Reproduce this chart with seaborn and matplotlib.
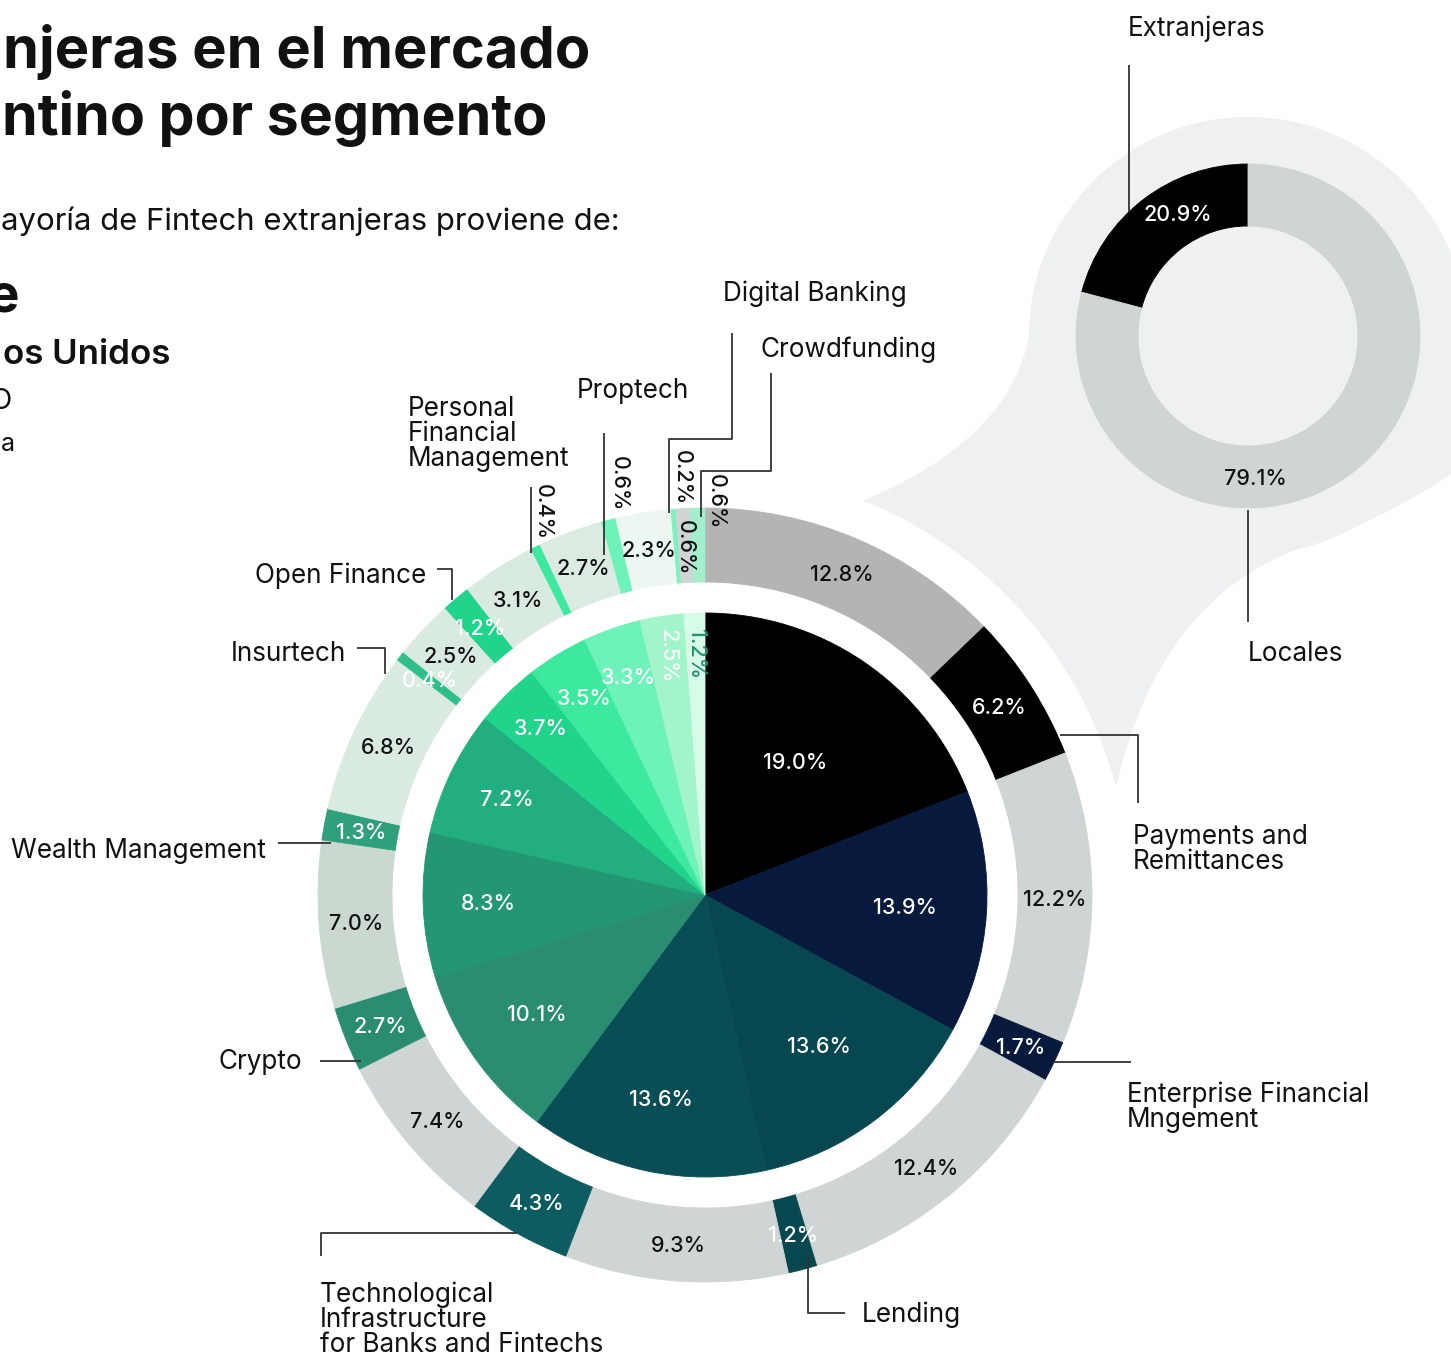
import numpy as np
import matplotlib
matplotlib.use("Agg")
import matplotlib.pyplot as plt
from matplotlib.patches import Circle, PathPatch
from matplotlib.path import Path
import seaborn as sns

# ---------------- data ----------------
segments = ["Payments and Remittances", "Enterprise Financial Mngement", "Lending",
            "Technological Infrastructure for Banks and Fintechs", "Crypto",
            "Wealth Management", "Insurtech", "Open Finance",
            "Personal Financial Management", "Proptech", "Digital Banking", "Crowdfunding"]
segment_share = [19.0, 13.9, 13.6, 13.6, 10.1, 8.3, 7.2, 3.7, 3.5, 3.3, 2.5, 1.2]
local_share = [12.8, 12.2, 12.4, 9.3, 7.4, 7.0, 6.8, 2.5, 3.1, 2.7, 2.3, 0.6]
foreign_share = [6.2, 1.7, 1.2, 4.3, 2.7, 1.3, 0.4, 1.2, 0.4, 0.6, 0.2, 0.6]
origin_labels = ["Extranjeras", "Locales"]
origin_share = [20.9, 79.1]

# ---------------- styles ----------------
segment_colors = ["#000000", "#071a3d", "#07474f", "#0a4e55", "#2a8d71", "#239673",
                  "#23ae80", "#20d48c", "#3de89f", "#6df2b9", "#a2f4ca", "#d6fce8"]
foreign_colors = ["#000000", "#071a3d", "#07474f", "#0d5c62", "#2a8d71", "#2ea17c",
                  "#2ebf8a", "#20d48c", "#3de89f", "#6df2b9", "#7ff0c0", "#a3eecb"]
local_colors = ["#b4b4b4", "#cfd4d5", "#cfd4d5", "#cfd4d5", "#cfd4d5", "#cad8cf",
                "#d9ebe1", "#d9ebe1", "#d9ebe1", "#dbebe2", "#edf7f1", "#cfd4d5"]
origin_colors = ["#000000", "#cfd4d5"]
BUBBLE = "#eff0f1"
LINE = "#333333"
TXT = "#111111"

W, H = 1451, 1359

sns.set_theme(style="white")
plt.rcParams["font.family"] = ["Inter", "DejaVu Sans"]

fig = plt.figure(figsize=(W / 100, H / 100), dpi=100)
fig.patch.set_facecolor("white")
ax = fig.add_axes([0, 0, 1, 1])


def P(x, y):
    return (x, H - y)


def T(x, y, s, **kw):
    kw.setdefault("color", TXT)
    return ax.text(x, H - y, s, **kw)


# ---------------- bubble behind the small donut ----------------
dcx, dcy = 1248, 336
ax.add_patch(Circle(P(dcx, dcy), 219, facecolor=BUBBLE, edgecolor="none", zorder=1))
verts = [P(1100, 336), P(1029, 336), P(1010, 440), P(860, 502), P(820, 640),
         P(1060, 830), P(1117, 783), P(1160, 600), P(1300, 548), P(1385, 520),
         P(1460, 468), P(1460, 336), P(1100, 336)]
codes = [Path.MOVETO, Path.LINETO, Path.CURVE3, Path.CURVE3, Path.LINETO,
         Path.LINETO, Path.LINETO, Path.CURVE3, Path.CURVE3, Path.CURVE3,
         Path.CURVE3, Path.LINETO, Path.CLOSEPOLY]
ax.add_patch(PathPatch(Path(verts, codes), facecolor=BUBBLE, edgecolor="none", zorder=1))

# white halo around the main pie
cx, cy = 705, 895
ax.add_patch(Circle(P(cx, cy), 425, facecolor="white", edgecolor="none", zorder=2))

# ---------------- main chart ----------------
R_OUT, RING_W, R_IN = 387, 74, 282
outer_vals = [v for pair in zip(local_share, foreign_share) for v in pair]
outer_cols = [c for pair in zip(local_colors, foreign_colors) for c in pair]

wo, _ = ax.pie(outer_vals, center=P(cx, cy), radius=R_OUT, startangle=90,
               counterclock=False, colors=outer_cols,
               wedgeprops=dict(width=RING_W, linewidth=0.6, zorder=3))
wi, _ = ax.pie(segment_share, center=P(cx, cy), radius=R_IN, startangle=90,
               counterclock=False, colors=segment_colors,
               wedgeprops=dict(linewidth=0.6, zorder=3))
wd, _ = ax.pie(origin_share, center=P(dcx, dcy), radius=172, startangle=90,
               counterclock=True, colors=origin_colors,
               wedgeprops=dict(width=62, linewidth=0.6, zorder=3))
for w in list(wo) + list(wi) + list(wd):
    w.set_edgecolor(w.get_facecolor())

PCT = dict(fontsize=15.5, fontweight="medium", ha="center", va="center", zorder=6)


def mid(w):
    return np.deg2rad((w.theta1 + w.theta2) / 2)


# outer ring labels
outside = {17: (543, 512), 19: (619, 484), 21: (682, 478), 23: (716, 502)}
ring_mid = R_OUT - RING_W / 2
for i, (w, v) in enumerate(zip(wo, outer_vals)):
    col = "white" if i % 2 == 1 else TXT
    s = f"{v:.1f}%"
    if i in outside:
        x, y = outside[i]
        T(x, y, s, rotation=-90, **{**PCT, "color": TXT})
        continue
    a = mid(w)
    x = cx + ring_mid * np.cos(a)
    y = cy - ring_mid * np.sin(a)
    rot = -90 if i == 22 else 0
    T(x, y + 2, s, rotation=rot, **{**PCT, "color": col})

# inner pie labels
inner_r = [0.57, 0.71, 0.67, 0.74, 0.73, 0.77, 0.78, 0.83, 0.82, 0.82, 0.86, 0.86]
for i, (w, v) in enumerate(zip(wi, segment_share)):
    a = mid(w)
    r = inner_r[i] * R_IN
    x = cx + r * np.cos(a)
    y = cy - r * np.sin(a)
    rot = -90 if i >= 10 else 0
    col = "#2a8d71" if i == 11 else "white"
    T(x, y + 1, f"{v:.1f}%", rotation=rot, **{**PCT, "color": col})

# donut labels
donut_angle = [np.deg2rad((wd[0].theta1 + wd[0].theta2) / 2 - 8), np.deg2rad(273)]
for i, v in enumerate(origin_share):
    a = donut_angle[i]
    x = dcx + 141 * np.cos(a)
    y = dcy - 141 * np.sin(a)
    T(x, y + 2, f"{v:.1f}%", **{**PCT, "color": "white" if i == 0 else TXT})

# ---------------- leader lines ----------------
leaders = [
    [(1129, 65), (1129, 212)],
    [(1248, 510), (1248, 622)],
    [(1060, 735), (1138, 735), (1138, 803)],
    [(1053, 1062), (1131, 1062)],
    [(808, 1255), (808, 1313), (845, 1313)],
    [(517, 1233), (321, 1233), (321, 1256)],
    [(320, 1061), (361, 1061)],
    [(278, 843), (331, 843)],
    [(357, 648), (385, 648), (385, 674)],
    [(437, 569), (452, 569), (452, 600)],
    [(531, 487), (531, 553)],
    [(604, 433), (604, 555)],
    [(732, 333), (732, 439), (669, 439), (669, 513)],
    [(771, 373), (771, 471), (701, 471), (701, 517)],
]
for pts in leaders:
    xs = [p[0] for p in pts]
    ys = [H - p[1] for p in pts]
    ax.plot(xs, ys, color=LINE, lw=1.3, zorder=5, solid_capstyle="butt")

# ---------------- segment labels (y = baseline of last line) ----------------
LAB = dict(fontsize=18.8, va="baseline", linespacing=0.96, zorder=6)
T(1128, 36, origin_labels[0], ha="left", **LAB)
T(1248, 661, origin_labels[1], ha="left", **LAB)
T(1133, 869, "Payments and\nRemittances", ha="left", **LAB)
T(1127, 1127, "Enterprise Financial\nMngement", ha="left", **LAB)
T(862, 1322, "Lending", ha="left", **LAB)
T(320, 1352, "Technological\nInfrastructure\nfor Banks and Fintechs", ha="left", **LAB)
T(302, 1069, "Crypto", ha="right", **LAB)
T(266, 858, "Wealth Management", ha="right", **LAB)
T(346, 661, "Insurtech", ha="right", **LAB)
T(426, 583, "Open Finance", ha="right", **LAB)
T(408, 466, "Personal\nFinancial\nManagement", ha="left", **LAB)
T(577, 398, "Proptech", ha="left", **LAB)
T(723, 301, "Digital Banking", ha="left", **LAB)
T(761, 357, "Crowdfunding", ha="left", **LAB)

# ---------------- cropped title block ----------------
t1 = T(590, 68, "njeras en el mercado", ha="right", va="baseline", fontsize=44, fontweight="bold")
t2 = T(547, 135, "ntino por segmento", ha="right", va="baseline", fontsize=44, fontweight="bold")
t3 = T(620, 230, "ayoría de Fintech extranjeras proviene de:", ha="right", va="baseline", fontsize=23)
t4 = T(19, 312, "e", ha="right", va="baseline", fontsize=38, fontweight="bold")
t5 = T(170, 364, "os Unidos", ha="right", va="baseline", fontsize=28, fontweight="semibold")
T(12, 409, "O", ha="right", va="baseline", fontsize=21)
T(15, 451, "a", ha="right", va="baseline", fontsize=18)

fig.canvas.draw()
rend = fig.canvas.get_renderer()
for t, target in [(t1, 588), (t2, 545), (t3, 618), (t5, 168)]:
    bb = t.get_window_extent(rend)
    t.set_fontsize(t.get_fontsize() * target / bb.width)

ax.set_xlim(0, W)
ax.set_ylim(0, H)
ax.set_aspect("equal")
ax.axis("off")

fig.savefig("out.png", dpi=100, facecolor="white")
